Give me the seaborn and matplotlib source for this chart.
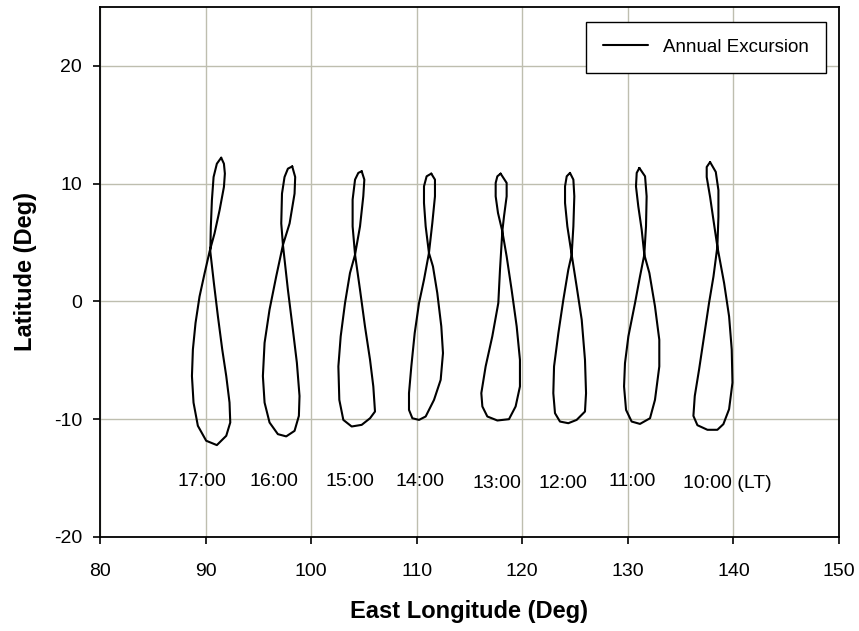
import pandas as pd
import matplotlib
matplotlib.use('Agg')
import matplotlib.pyplot as plt
import seaborn as sns
from matplotlib.lines import Line2D

# Annual excursion loops (lon, lat), one per local time
lon_1700 = [91.48, 91.74, 91.83, 91.74, 91.33, 90.85, 90.38, 89.91, 89.43, 89.05, 88.80, 88.71, 88.86, 89.27,
            90.06, 91.07, 91.96, 92.34, 92.27, 91.96, 91.58, 91.17, 90.79, 90.45, 90.50, 90.60, 90.76, 91.07]
lat_1700 = [12.20, 11.69, 10.85, 9.72, 7.75, 5.77, 4.23, 2.39, 0.42, -1.83, -4.08, -6.34, -8.59, -10.56,
            -11.83, -12.20, -11.41, -10.28, -8.59, -6.34, -4.08, -1.27, 1.55, 4.23, 6.34, 8.59, 10.56, 11.69]

lon_1600 = [98.21, 98.49, 98.43, 97.96, 97.33, 96.69, 96.06, 95.59, 95.43, 95.59, 96.06, 96.85, 97.64, 98.43,
            98.84, 98.90, 98.65, 98.27, 97.80, 97.33, 97.17, 97.24, 97.48, 97.80]
lat_1600 = [11.46, 10.56, 9.15, 6.62, 4.79, 2.11, -0.70, -3.52, -6.34, -8.59, -10.28, -11.27, -11.46, -10.99,
            -9.72, -8.03, -5.21, -2.39, 0.99, 4.79, 6.62, 9.15, 10.56, 11.27]

lon_1500 = [104.79, 105.04, 104.94, 104.63, 104.16, 103.68, 103.21, 102.80, 102.58, 102.67, 103.05, 103.84,
            104.79, 105.58, 106.05, 105.89, 105.58, 105.10, 104.63, 104.16, 103.93, 103.93, 104.16, 104.47]
lat_1500 = [11.05, 10.34, 8.92, 6.37, 3.97, 2.41, -0.14, -2.97, -5.52, -8.36, -10.06, -10.62,
            -10.48, -9.92, -9.35, -7.22, -4.96, -2.12, 0.99, 3.97, 6.37, 8.64, 10.34, 10.91]

lon_1400 = [111.38, 111.73, 111.73, 111.48, 111.16, 110.69, 110.22, 109.81, 109.49, 109.27, 109.27, 109.59,
            110.22, 110.85, 111.64, 112.27, 112.49, 112.33, 111.95, 111.54, 111.16, 110.85, 110.69, 110.69, 110.94]
lat_1400 = [10.85, 10.34, 8.92, 6.66, 4.11, 1.84, -0.14, -2.69, -5.52, -7.79, -9.21, -9.92,
            -10.06, -9.77, -8.36, -6.66, -4.39, -2.12, 0.71, 2.97, 4.11, 6.37, 8.36, 9.77, 10.62]

lon_1300 = [117.95, 118.52, 118.52, 118.27, 118.11, 117.89, 117.73, 117.16, 116.53, 116.12, 116.22, 116.69,
            117.64, 118.74, 119.37, 119.78, 119.78, 119.47, 118.99, 118.52, 118.11, 117.70, 117.48, 117.48, 117.64]
lat_1300 = [10.85, 10.06, 8.92, 7.22, 5.95, 2.69, -0.14, -2.97, -5.52, -7.79, -8.92, -9.77,
            -10.11, -10.00, -8.92, -7.22, -4.96, -2.12, 0.99, 3.82, 5.95, 7.51, 8.92, 10.06, 10.62]

lon_1200 = [124.52, 124.84, 124.93, 124.84, 124.68, 124.36, 123.89, 123.42, 123.01, 122.94, 123.10, 123.57,
            124.36, 125.15, 125.94, 126.04, 125.94, 125.63, 125.15, 124.68, 124.27, 124.05, 124.05, 124.21]
lat_1200 = [10.91, 10.34, 8.92, 6.37, 3.97, 2.69, 0.14, -2.69, -5.52, -7.79, -9.49, -10.20,
            -10.34, -10.06, -9.35, -7.79, -4.96, -1.56, 1.27, 3.97, 6.37, 8.36, 9.77, 10.62]

lon_1100 = [131.09, 131.63, 131.78, 131.72, 131.56, 131.15, 130.68, 130.05, 129.73, 129.64, 129.83, 130.36,
            131.15, 132.10, 132.57, 132.98, 132.98, 132.57, 132.04, 131.56, 131.31, 130.99, 130.77, 130.84]
lat_1100 = [11.33, 10.62, 8.92, 6.37, 3.97, 2.12, -0.14, -2.97, -5.24, -7.22, -9.21, -10.20,
            -10.40, -9.92, -8.36, -5.52, -3.26, -0.42, 2.41, 3.97, 6.09, 8.07, 9.77, 10.91]

lon_1000 = [137.79, 138.33, 138.58, 138.58, 138.48, 138.11, 137.69, 137.22, 136.75, 136.34, 136.21, 136.59,
            137.54, 138.48, 139.05, 139.59, 139.91, 139.84, 139.59, 139.12, 138.48, 138.11, 137.79, 137.47, 137.47]
lat_1000 = [11.83, 10.99, 9.44, 7.18, 4.65, 2.11, -0.14, -2.96, -5.77, -8.03, -9.72, -10.51,
            -10.90, -10.90, -10.42, -9.15, -6.90, -4.08, -1.27, 1.55, 4.65, 6.90, 8.87, 10.56, 11.41]

time_labels = ['17:00', '16:00', '15:00', '14:00', '13:00', '12:00', '11:00', '10:00 (LT)']
label_lon = [89.66, 96.48, 103.68, 110.31, 117.61, 123.85, 130.39, 139.39]
label_lat = [-15.25, -15.3, -15.25, -15.25, -15.5, -15.5, -15.25, -15.45]

loops = [(lon_1700, lat_1700), (lon_1600, lat_1600), (lon_1500, lat_1500), (lon_1400, lat_1400),
         (lon_1300, lat_1300), (lon_1200, lat_1200), (lon_1100, lat_1100), (lon_1000, lat_1000)]


def main():
    # long table, one unit per loop, closed back to its first point
    frames = []
    for name, (lo, la) in zip(time_labels, loops):
        frames.append(pd.DataFrame({'lon': lo + lo[:1], 'lat': la + la[:1], 'loop': name}))
    df = pd.concat(frames, ignore_index=True)

    sns.set_style('ticks')
    plt.rcParams['font.family'] = ['Liberation Sans', 'DejaVu Sans']
    plt.rcParams['axes.unicode_minus'] = False
    plt.rcParams['text.color'] = 'black'
    plt.rcParams['axes.labelcolor'] = 'black'

    fig, ax = plt.subplots(figsize=(8.59, 6.31), dpi=100)
    fig.subplots_adjust(left=0.1164, right=0.9767, bottom=0.149, top=0.989)

    sns.lineplot(data=df, x='lon', y='lat', units='loop', estimator=None, sort=False,
                 color='black', linewidth=1.5, legend=False, ax=ax)

    for txt, x, y in zip(time_labels, label_lon, label_lat):
        ax.text(x, y, txt, ha='center', va='center', fontsize=14, color='black')

    ax.set_xlim(80, 150)
    ax.set_ylim(-20, 25)
    ax.set_xticks(range(80, 151, 10))
    ax.set_yticks(range(-20, 21, 10))
    ax.grid(True, color='#bebeaf', linewidth=1.0)
    ax.set_axisbelow(True)
    for s in ax.spines.values():
        s.set_color('black')
        s.set_linewidth(1.3)
    ax.tick_params(axis='both', direction='out', length=5, width=1.2, colors='black', labelsize=14)
    ax.tick_params(axis='x', pad=14)
    ax.tick_params(axis='y', pad=8)

    ax.set_xlabel('East Longitude (Deg)', fontsize=17, fontweight='bold', labelpad=14, color='black')
    ax.set_ylabel('Latitude (Deg)', fontsize=17, fontweight='bold', labelpad=12, color='black')

    handle = Line2D([], [], color='black', linewidth=1.5)
    leg = ax.legend([handle], ['Annual Excursion'], loc='upper right', bbox_to_anchor=(0.9824, 0.9717),
                    borderaxespad=0, fontsize=13.5, handlelength=2.4, handletextpad=0.8,
                    borderpad=0.9, fancybox=False, framealpha=1, edgecolor='black')
    leg.get_frame().set_linewidth(1.0)
    for t in leg.get_texts():
        t.set_color('black')

    plt.savefig('out.png', dpi=100)


if __name__ == '__main__':
    main()
